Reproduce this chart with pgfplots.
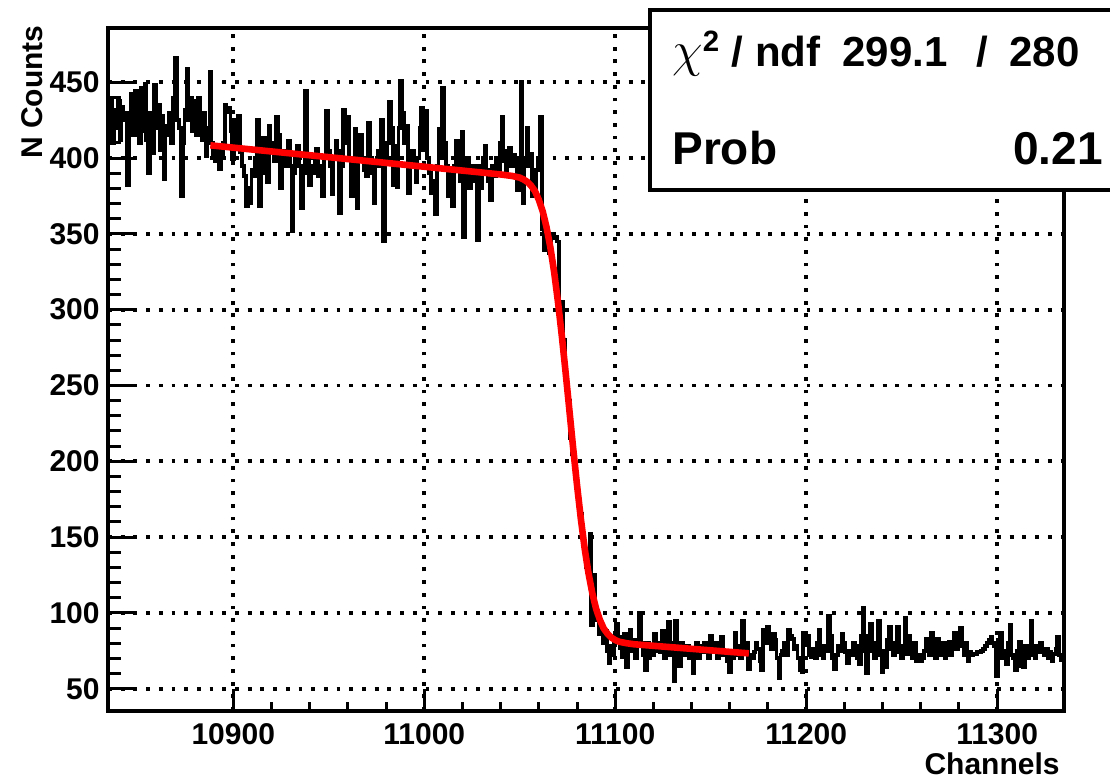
\documentclass[border=0pt]{standalone}
\usepackage{pgfplots}
\pgfplotsset{compat=1.18}
\usepackage{fontspec}
\setmainfont{Liberation Sans}
\begin{document}
\begin{tikzpicture}[x=0.5pt,y=0.5pt]
\useasboundingbox (0,0) rectangle (1110,781);
\begin{axis}[
  at={(54pt,35pt)}, anchor=south west,
  scale only axis, width=478pt, height=341.5pt,
  xmin=10834.4, xmax=11335, ymin=35.3, ymax=485.8,
  axis line style={line width=1.6pt},
  tick align=inside, xtick pos=left, ytick pos=left,
  xtick={10900,11000,11100,11200,11300},
  ytick={50,100,...,450},
  minor x tick num=4, minor y tick num=4,
  xtick style={line width=1.5pt,black,/pgfplots/major tick length=11pt,/pgfplots/minor tick length=4.5pt},
  ytick style={line width=1.5pt,black,/pgfplots/major tick length=14.5pt,/pgfplots/minor tick length=6.5pt},
  grid=major,
  major grid style={black, line width=1.9pt, dash pattern=on 1.9pt off 4.45pt},
  scaled ticks=false,
  /pgf/number format/assume math mode=true,
  /pgf/number format/1000 sep={},
  ticklabel style={font=\fontsize{15pt}{18pt}\selectfont\bfseries},
  yticklabel style={inner sep=0pt, xshift=-4pt},
  xticklabel style={inner sep=0pt, yshift=-6pt},
  xlabel={Channels},
  xlabel style={at={(axis description cs:0.9958,-0.0937)}, anchor=base east, inner sep=0pt, font=\fontsize{15pt}{18pt}\selectfont\bfseries},
  ylabel={N Counts},
  ylabel style={at={(axis description cs:-0.068,1.0044)}, anchor=base east, inner sep=0pt, font=\fontsize{15pt}{18pt}\selectfont\bfseries},
]
\addplot[const plot mark mid, black, line width=1.9pt] coordinates {
(10835,415) (10836,440) (10837,410) (10838,432) (10839,420) (10840,438) (10841,412) (10842,434) (10843,425) (10844,430)
(10845,382) (10846,420) (10847,442) (10848,415) (10849,444) (10850,430) (10851,410) (10852,446) (10853,418) (10854,449)
(10855,412) (10856,390) (10857,430) (10858,403) (10859,448) (10860,420) (10861,435) (10862,405) (10863,428) (10864,386)
(10865,415) (10866,421) (10867,430) (10868,410) (10869,440) (10870,466) (10871,425) (10872,420) (10873,375) (10874,410)
(10875,432) (10876,459) (10877,425) (10878,440) (10879,418) (10880,438) (10881,415) (10882,440) (10883,422) (10884,412)
(10885,430) (10886,401) (10887,420) (10888,457) (10889,410) (10890,402) (10891,398) (10892,405) (10893,393) (10894,400)
(10895,410) (10896,435) (10897,430) (10898,433) (10899,418) (10900,399) (10901,425) (10902,410) (10903,428) (10904,404)
(10905,395) (10906,388) (10907,368) (10908,380) (10909,370) (10910,392) (10911,388) (10912,400) (10913,425) (10914,368)
(10915,400) (10916,413) (10917,390) (10918,384) (10919,421) (10920,405) (10921,410) (10922,398) (10923,427) (10924,415)
(10925,380) (10926,398) (10927,405) (10928,395) (10929,411) (10930,395) (10931,352) (10932,390) (10933,400) (10934,408)
(10935,395) (10936,367) (10937,390) (10938,444) (10939,400) (10940,382) (10941,395) (10942,390) (10943,398) (10944,406)
(10945,388) (10946,395) (10947,375) (10948,400) (10949,431) (10950,405) (10951,395) (10952,376) (10953,400) (10954,411)
(10955,405) (10956,364) (10957,395) (10958,432) (10959,410) (10960,427) (10961,400) (10962,375) (10963,395) (10964,419)
(10965,367) (10966,400) (10967,415) (10968,398) (10969,392) (10970,388) (10971,423) (10972,400) (10973,390) (10974,370)
(10975,398) (10976,405) (10977,395) (10978,425) (10979,345) (10980,400) (10981,410) (10982,437) (10983,420) (10984,382)
(10985,408) (10986,381) (10987,420) (10988,451) (10989,430) (10990,410) (10991,421) (10992,377) (10993,398) (10994,405)
(10995,395) (10996,384) (10997,400) (10998,420) (10999,433) (11000,405) (11001,431) (11002,400) (11003,390) (11004,377)
(11005,385) (11006,363) (11007,395) (11008,419) (11009,400) (11010,446) (11011,410) (11012,395) (11013,375) (11014,390)
(11015,368) (11016,395) (11017,411) (11018,400) (11019,385) (11020,417) (11021,348) (11022,390) (11023,400) (11024,380)
(11025,392) (11026,395) (11027,385) (11028,346) (11029,395) (11030,380) (11031,400) (11032,408) (11033,392) (11034,385)
(11035,372) (11036,395) (11037,388) (11038,400) (11039,392) (11040,410) (11041,427) (11042,398) (11043,392) (11044,405)
(11045,407) (11046,395) (11047,402) (11048,398) (11049,379) (11050,400) (11051,450) (11052,370) (11053,400) (11054,420)
(11055,395) (11056,403) (11057,375) (11058,378) (11059,392) (11060,400) (11061,427) (11062,353) (11063,339) (11064,348)
(11065,345) (11066,337) (11067,350) (11068,347) (11069,348) (11070,345) (11071,300) (11072,305) (11073,280) (11074,255)
(11075,248) (11076,240) (11077,215) (11078,205) (11079,195) (11080,185) (11081,172) (11082,165) (11083,150) (11084,140)
(11085,130) (11086,138) (11087,152) (11088,92) (11089,125) (11090,98) (11091,95) (11092,86) (11093,90) (11094,80)
(11095,88) (11096,75) (11097,67) (11098,78) (11099,72) (11100,82) (11101,93) (11102,84) (11103,77) (11104,71)
(11105,86) (11106,64) (11107,80) (11108,89) (11109,75) (11110,82) (11111,70) (11112,78) (11113,100) (11114,80)
(11115,72) (11116,62) (11117,80) (11118,70) (11119,78) (11120,72) (11121,86) (11122,75) (11123,80) (11124,74)
(11125,88) (11126,70) (11127,78) (11128,94) (11129,72) (11130,80) (11131,55) (11132,95) (11133,78) (11134,65)
(11135,80) (11136,72) (11137,75) (11138,78) (11139,70) (11140,76) (11141,60) (11142,75) (11143,80) (11144,70)
(11145,78) (11146,74) (11147,80) (11148,75) (11149,70) (11150,85) (11151,74) (11152,78) (11153,80) (11154,70)
(11155,76) (11156,84) (11157,72) (11158,75) (11159,68) (11160,61) (11161,74) (11162,70) (11163,87) (11164,72)
(11165,78) (11166,70) (11167,95) (11168,75) (11169,80) (11170,63) (11171,72) (11172,70) (11173,74) (11174,80)
(11175,76) (11176,68) (11177,62) (11178,89) (11179,80) (11180,91) (11181,84) (11182,76) (11183,86) (11184,82)
(11185,70) (11186,57) (11187,72) (11188,75) (11189,80) (11190,72) (11191,89) (11192,85) (11193,83) (11194,76)
(11195,78) (11196,70) (11197,62) (11198,61) (11199,87) (11200,80) (11201,85) (11202,72) (11203,71) (11204,76)
(11205,70) (11206,80) (11207,89) (11208,72) (11209,70) (11210,78) (11211,75) (11212,98) (11213,85) (11214,70)
(11215,63) (11216,72) (11217,78) (11218,75) (11219,86) (11220,80) (11221,74) (11222,67) (11223,75) (11224,72)
(11225,80) (11226,78) (11227,70) (11228,66) (11229,85) (11230,103) (11231,75) (11232,60) (11233,85) (11234,93)
(11235,75) (11236,70) (11237,80) (11238,95) (11239,72) (11240,61) (11241,75) (11242,64) (11243,82) (11244,91)
(11245,76) (11246,72) (11247,80) (11248,91) (11249,74) (11250,70) (11251,78) (11252,97) (11253,73) (11254,85)
(11255,78) (11256,70) (11257,80) (11258,68) (11259,72) (11260,68) (11261,70) (11262,75) (11263,83) (11264,78)
(11265,72) (11266,87) (11267,75) (11268,70) (11269,83) (11270,78) (11271,72) (11272,80) (11273,70) (11274,75)
(11275,81) (11276,72) (11277,78) (11278,87) (11279,76) (11280,84) (11281,90) (11282,78) (11283,72) (11284,80)
(11285,68) (11286,74) (11287,72) (11288,73) (11289,73) (11290,74) (11291,74) (11292,75) (11293,76) (11294,78)
(11295,80) (11296,82) (11297,84) (11298,80) (11299,78) (11300,58) (11301,82) (11302,87) (11303,70) (11304,75)
(11305,66) (11306,80) (11307,92) (11308,72) (11309,70) (11310,62) (11311,75) (11312,81) (11313,65) (11314,64)
(11315,78) (11316,70) (11317,76) (11318,95) (11319,72) (11320,70) (11321,78) (11322,74) (11323,80) (11324,75)
(11325,72) (11326,76) (11327,70) (11328,74) (11329,68) (11330,73) (11331,76) (11332,84) (11333,72) (11334,69)
(11335,70)
};
\addplot[red, line width=3.3pt] coordinates {
(10888,408.4) (10950,400.6) (11000,394.3) (11040,389.2) (11046,388.2) (11050,387.1) (11052,385.9) (11054,384.3)
(11056,381.7) (11058,378.2) (11060,372.5) (11062,365.0) (11064,354.6) (11066,341.4) (11068,325.0) (11070,305.4)
(11072,283.2) (11074,259.0) (11076,233.7) (11078,208.4) (11080,184.3) (11082,162.1) (11084,142.5) (11086,126.2)
(11088,113.0) (11090,102.7) (11092,95.3) (11094,89.7) (11096,86.2) (11098,83.7) (11100,82.1) (11102,81.0)
(11106,80.0) (11110,79.3) (11120,78.3) (11140,76.3) (11170,73.3)
};
\end{axis}
\draw[line width=1.6pt, fill=white] (650,771) rectangle (1130,591);
\node[anchor=base west, inner sep=0pt, font=\fontsize{21pt}{24pt}\selectfont\bfseries] at (672,714) {{\fontsize{23pt}{24pt}\selectfont$\chi$}\textsuperscript{2} / ndf};
\node[anchor=base west, inner sep=0pt, font=\fontsize{21pt}{24pt}\selectfont\bfseries] at (842,714) {299.1\hspace{0.7em}/\hspace{0.5em}280};
\node[anchor=base west, inner sep=0pt, font=\fontsize{23pt}{27pt}\selectfont\bfseries] at (672,616) {Prob};
\node[anchor=base east, inner sep=0pt, font=\fontsize{23pt}{27pt}\selectfont\bfseries] at (1103,616) {0.21};
\end{tikzpicture}
\end{document}
